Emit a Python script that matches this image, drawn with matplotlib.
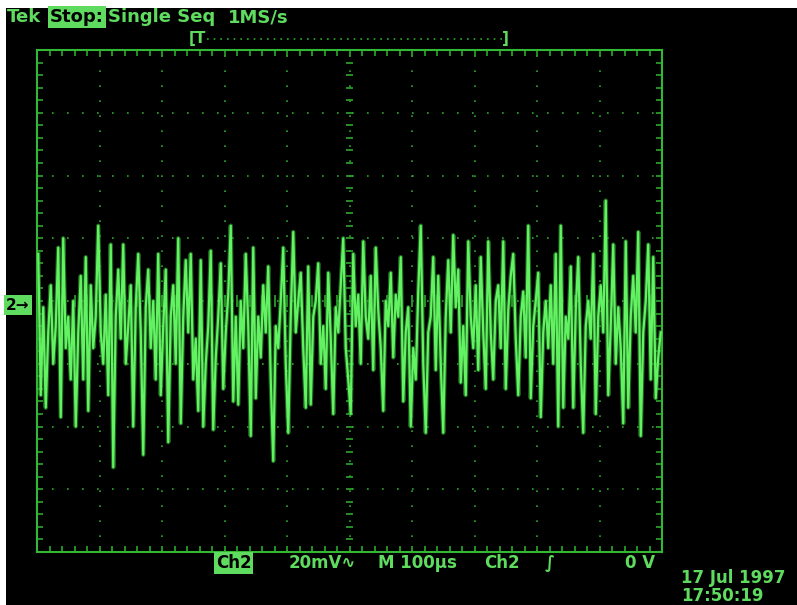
import numpy as np
import matplotlib.pyplot as plt
from matplotlib.patches import Rectangle
import matplotlib.transforms as mtransforms

W, H = 797, 605

# Ch2 trace, mV relative to screen centre, one sample every 4 us
trace_mv = [
    15, -30, -2, -34, -10, 5, -20, -8, 17, -37, 20, -15, -5, -25, 0, -40, -10, 8, -25, 14,
    -35, 5, -15, -5, 24, -10, -20, 2, -30, 18, -53, -5, 10, -12, 18, -20, -8, 5, -40, -2,
    15, -10, -49, -2, 10, -15, 0, -25, 15, -30, -8, 10, -45, -5, 5, -20, 20, -39, -5, 13,
    -10, 15, -25, -12, -35, 13, -40, -20, -8, 16, -41, -18, -5, 12, -28, -10, 2, 24, -32, -5,
    -33, 0, -15, 15, -8, -43, 17, -31, -5, -18, 5, -10, 11, -25, -51, -8, -15, 0, 17, -20,
    -42, -5, 22, -10, 0, 9, -15, -34, 11, -33, -5, 0, 12, -20, -8, -28, 9, -12, -36, -2,
    -10, 5, 20, -15, -25, -36, 15, -8, 2, -20, 19, -5, -12, 8, -22, 17, -3, -15, -35, 0,
    -8, 9, -18, 2, -5, 14, -32, -10, -2, -40, -15, -25, 3, 24, -20, -42, -10, -5, 14, -22,
    8, -20, -42, -5, 13, -10, 21, -2, 10, -26, -8, -30, 19, -5, -15, 5, -22, 14, -10, -28,
    19, -10, -25, 0, 5, -15, 19, -28, -3, 8, 15, -12, -30, -5, 3, -18, 24, -31, -8, 0,
    9, -37, -10, 0, -15, 5, -20, 15, -40, 24, -34, -5, -12, 11, -34, -3, 14, -20, -42, -8,
    0, -12, 15, -36, -5, 5, -10, 32, -30, -8, 18, -20, -2, -15, -39, 19, -34, -5, 8, -10,
    22, -43, -10, 0, 18, -25, 14, -31, -18, -10,
]
sample_us = 4
mv_per_div = 20
us_per_div = 100
n_xdiv, n_ydiv = 10, 8
ground_mv = -1.3  # where the "2" marker sits

top_labels = ["Tek", "Stop:", "Single Seq", "1MS/s"]
bottom_labels = ["Ch2", "20mV\u223f", "M 100\u00b5s", "Ch2", "\u222b", "0 V"]
date_lines = ["17 Jul 1997", "17:50:19"]

TRACE = '#62f262'
TRACE_DIM = '#2f9e2f'
GRID = '#2da82d'
TXT = '#5fdc5f'
FONT = ['DejaVu Sans']


def fx(px):
    return px / W


def fy(py):
    return 1 - py / H


fig = plt.figure(figsize=(W / 100, H / 100), dpi=100, facecolor='white')
fig.add_artist(Rectangle((fx(6), 0), 1, fy(8), transform=fig.transFigure,
                         facecolor='black', edgecolor='none', zorder=0))

ax = fig.add_axes([fx(37), fy(552), fx(662) - fx(37), fy(50) - fy(552)])
ax.set_facecolor('none')
xmax = n_xdiv * us_per_div
ymax = n_ydiv / 2 * mv_per_div
ax.set_xlim(0, xmax)
ax.set_ylim(-ymax, ymax)

# graticule
ax.set_xticks(np.arange(0, xmax + 1, us_per_div))
ax.set_yticks(np.arange(-ymax, ymax + 1, mv_per_div))
ax.set_xticks(np.arange(0, xmax + 1, us_per_div / 5), minor=True)
ax.set_yticks(np.arange(-ymax, ymax + 1, mv_per_div / 5), minor=True)
ax.grid(True, color=GRID, ls=(0, (1, 8)), lw=1.2)
ax.tick_params(which='both', direction='in', top=True, right=True, length=4,
               width=1.2, color=GRID, labelbottom=False, labelleft=False)
for s in ax.spines.values():
    s.set_color('#33b833')
    s.set_linewidth(1.5)
# ticks along the centre cross
ax.vlines(np.arange(0, xmax + 1, us_per_div / 5), -2, 2, color=GRID, lw=1.2)
ax.hlines(np.arange(-ymax, ymax + 1, mv_per_div / 5), xmax / 2 - 6, xmax / 2 + 6,
          color=GRID, lw=1.2)

t = np.arange(len(trace_mv)) * sample_us + 2
ax.plot(t, trace_mv, color=TRACE_DIM, lw=3.2, alpha=0.6, zorder=3)
ax.plot(t, trace_mv, color=TRACE, lw=1.6, zorder=4)

# channel marker
trans = mtransforms.blended_transform_factory(fig.transFigure, ax.transData)
fig.text(fx(6), ground_mv, '2\u2192', transform=trans, ha='left', va='center',
         fontsize=11, color='black', family=FONT, fontweight='bold',
         bbox=dict(boxstyle='square,pad=0.15', fc=TXT, ec='none'))

# header line
kw = dict(fontsize=13, color=TXT, family=FONT, fontweight='bold', va='center')
fig.text(fx(7), fy(17), top_labels[0], **kw)
fig.text(fx(50), fy(17), top_labels[1], bbox=dict(boxstyle='square,pad=0.1', fc=TXT, ec='none'),
         **{**kw, 'color': 'black'})
fig.text(fx(108), fy(17), top_labels[2], **kw)
fig.text(fx(228), fy(17), top_labels[3], **kw)

# record window bar
fig.text(fx(189), fy(39), '[T', **{**kw, 'fontsize': 11})
fig.add_artist(plt.Line2D([fx(207), fx(502)], [fy(39), fy(39)], transform=fig.transFigure,
                          color=GRID, lw=1.2, ls=(0, (1, 3))))
fig.text(fx(502), fy(39), ']', **{**kw, 'fontsize': 11})

# bottom readout
fig.text(fx(216), fy(563), bottom_labels[0], bbox=dict(boxstyle='square,pad=0.1', fc=TXT, ec='none'),
         **{**kw, 'color': 'black', 'fontsize': 12})
for x, s in zip([289, 378, 484, 545, 625], bottom_labels[1:]):
    fig.text(fx(x), fy(563), s, **{**kw, 'fontsize': 12})
fig.text(fx(681), fy(578), date_lines[0], **{**kw, 'fontsize': 12})
fig.text(fx(681), fy(596), date_lines[1], **{**kw, 'fontsize': 12})

fig.savefig('out.png', dpi=100, facecolor='white')
